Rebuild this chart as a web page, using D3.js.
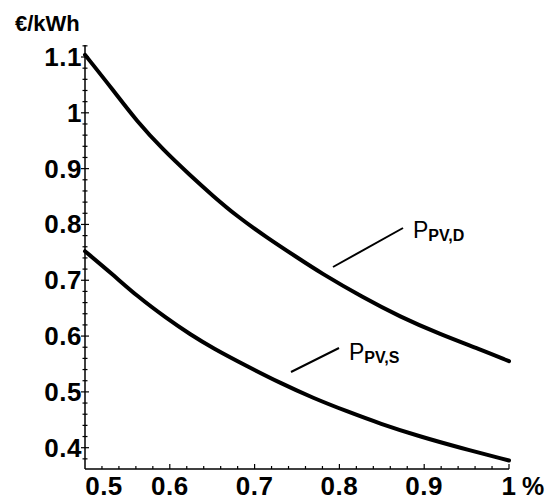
<!DOCTYPE html>
<html>
<head>
<meta charset="utf-8">
<script src="https://cdn.jsdelivr.net/npm/d3@7"></script>
<style>
  body { margin: 0; background: #fff; }
  text { font-family: "Liberation Sans", Arial, sans-serif; fill: #000; }
</style>
</head>
<body>
<div id="chart"></div>
<script>
// Data (x in %, y in €/kWh)
const xTicks = [0.5, 0.6, 0.7, 0.8, 0.9, 1];
const yTicks = [0.4, 0.5, 0.6, 0.7, 0.8, 0.9, 1, 1.1];

const upperX = [0.5, 0.533, 0.561, 0.592, 0.624, 0.651, 0.679, 0.714, 0.75, 0.777, 0.828, 0.871, 0.919, 0.966, 1.0];
const upperY = [1.104, 1.041, 0.985, 0.934, 0.888, 0.851, 0.815, 0.777, 0.741, 0.714, 0.669, 0.635, 0.603, 0.576, 0.555];

const lowerX = [0.5, 0.533, 0.561, 0.596, 0.624, 0.651, 0.691, 0.73, 0.769, 0.809, 0.848, 0.895, 0.942, 1.0];
const lowerY = [0.752, 0.71, 0.672, 0.632, 0.603, 0.578, 0.546, 0.516, 0.489, 0.465, 0.443, 0.42, 0.4, 0.377];

const width = 545, height = 500;

const x = d3.scaleLinear().domain([0.5, 1]).range([85, 509]);
const y = d3.scaleLinear().domain([0.4, 1.1]).range([447.7, 57]);
const yMin = y.invert(469), yMax = y.invert(45);

const svg = d3.select('#chart')
    .append('svg')
    .attr('width', width)
    .attr('height', height);

// Axes lines
svg.append('line')
    .attr('x1', x(0.5)).attr('x2', x(1))
    .attr('y1', y(yMin)).attr('y2', y(yMin))
    .attr('stroke', '#000').attr('stroke-width', 1.5);
svg.append('line')
    .attr('x1', x(0.5)).attr('x2', x(0.5))
    .attr('y1', y(yMin)).attr('y2', y(yMax))
    .attr('stroke', '#000').attr('stroke-width', 1.5);

// Minor + major ticks on the x axis (step 0.02)
const xMinor = d3.range(0, 26).map(i => 0.5 + i * 0.02);
svg.append('g').selectAll('line')
    .data(xMinor.slice(1))
    .enter().append('line')
    .attr('x1', d => x(d)).attr('x2', d => x(d))
    .attr('y1', y(yMin))
    .attr('y2', (d, i) => y(yMin) - ((i + 1) % 5 === 0 ? 5 : 3))
    .attr('stroke', '#000').attr('stroke-width', 1.2);

// Ticks on the y axis
const yMinor = d3.range(0, 40).map(i => 0.38 + i * 0.02).filter(v => v <= yMax);
svg.append('g').selectAll('line')
    .data(yMinor)
    .enter().append('line')
    .attr('x1', d => x(0.5) - (Math.abs(d * 10 - Math.round(d * 10)) < 0.01 ? 4 : 2.5))
    .attr('x2', d => x(0.5) + (Math.abs(d * 10 - Math.round(d * 10)) < 0.01 ? 4 : 2.5))
    .attr('y1', d => y(d)).attr('y2', d => y(d))
    .attr('stroke', '#000').attr('stroke-width', 1.2);

// Tick labels
svg.append('g').selectAll('text')
    .data(yTicks)
    .enter().append('text')
    .attr('x', 82)
    .attr('y', d => y(d) + 9)
    .attr('text-anchor', 'end')
    .style('font-size', '26px')
    .style('font-weight', 'bold')
    .style('letter-spacing', '0.5px')
    .text(d => d);

svg.append('g').selectAll('text')
    .data(xTicks)
    .enter().append('text')
    .attr('x', (d, i) => i === 0 ? x(d) + 19 : x(d))
    .attr('y', 495)
    .attr('text-anchor', 'middle')
    .style('font-size', '26px')
    .style('font-weight', 'bold')
    .style('letter-spacing', '0.5px')
    .text(d => d);

svg.append('text')
    .attr('x', 522).attr('y', 495)
    .style('font-size', '25px')
    .style('font-weight', 'bold')
    .text('%');

svg.append('text')
    .attr('x', 15).attr('y', 31)
    .style('font-size', '22px')
    .style('font-weight', 'bold')
    .text('€/kWh');

// Curves
const line = d3.line().x(d => x(d[0])).y(d => y(d[1])).curve(d3.curveBasis);
[[upperX, upperY], [lowerX, lowerY]].forEach(([xs, ys]) => {
    svg.append('path')
        .datum(xs.map((v, i) => [v, ys[i]]))
        .attr('d', line)
        .attr('fill', 'none')
        .attr('stroke', '#000')
        .attr('stroke-width', 4)
        .attr('stroke-linecap', 'round');
});

// Labels with leader lines
function label(x1, y1, x2, y2, tx, ty, sub) {
    svg.append('line')
        .attr('x1', x1).attr('y1', y1).attr('x2', x2).attr('y2', y2)
        .attr('stroke', '#000').attr('stroke-width', 2);
    const t = svg.append('text').attr('x', tx).attr('y', ty).style('font-size', '23px');
    t.append('tspan').text('P');
    t.append('tspan').attr('dy', 3).style('font-size', '16px').style('font-weight', 'bold').text(sub);
}
label(403, 228, 333, 267, 413, 238, 'PV,D');
label(339, 348, 291, 372, 349, 360, 'PV,S');
</script>
</body>
</html>
